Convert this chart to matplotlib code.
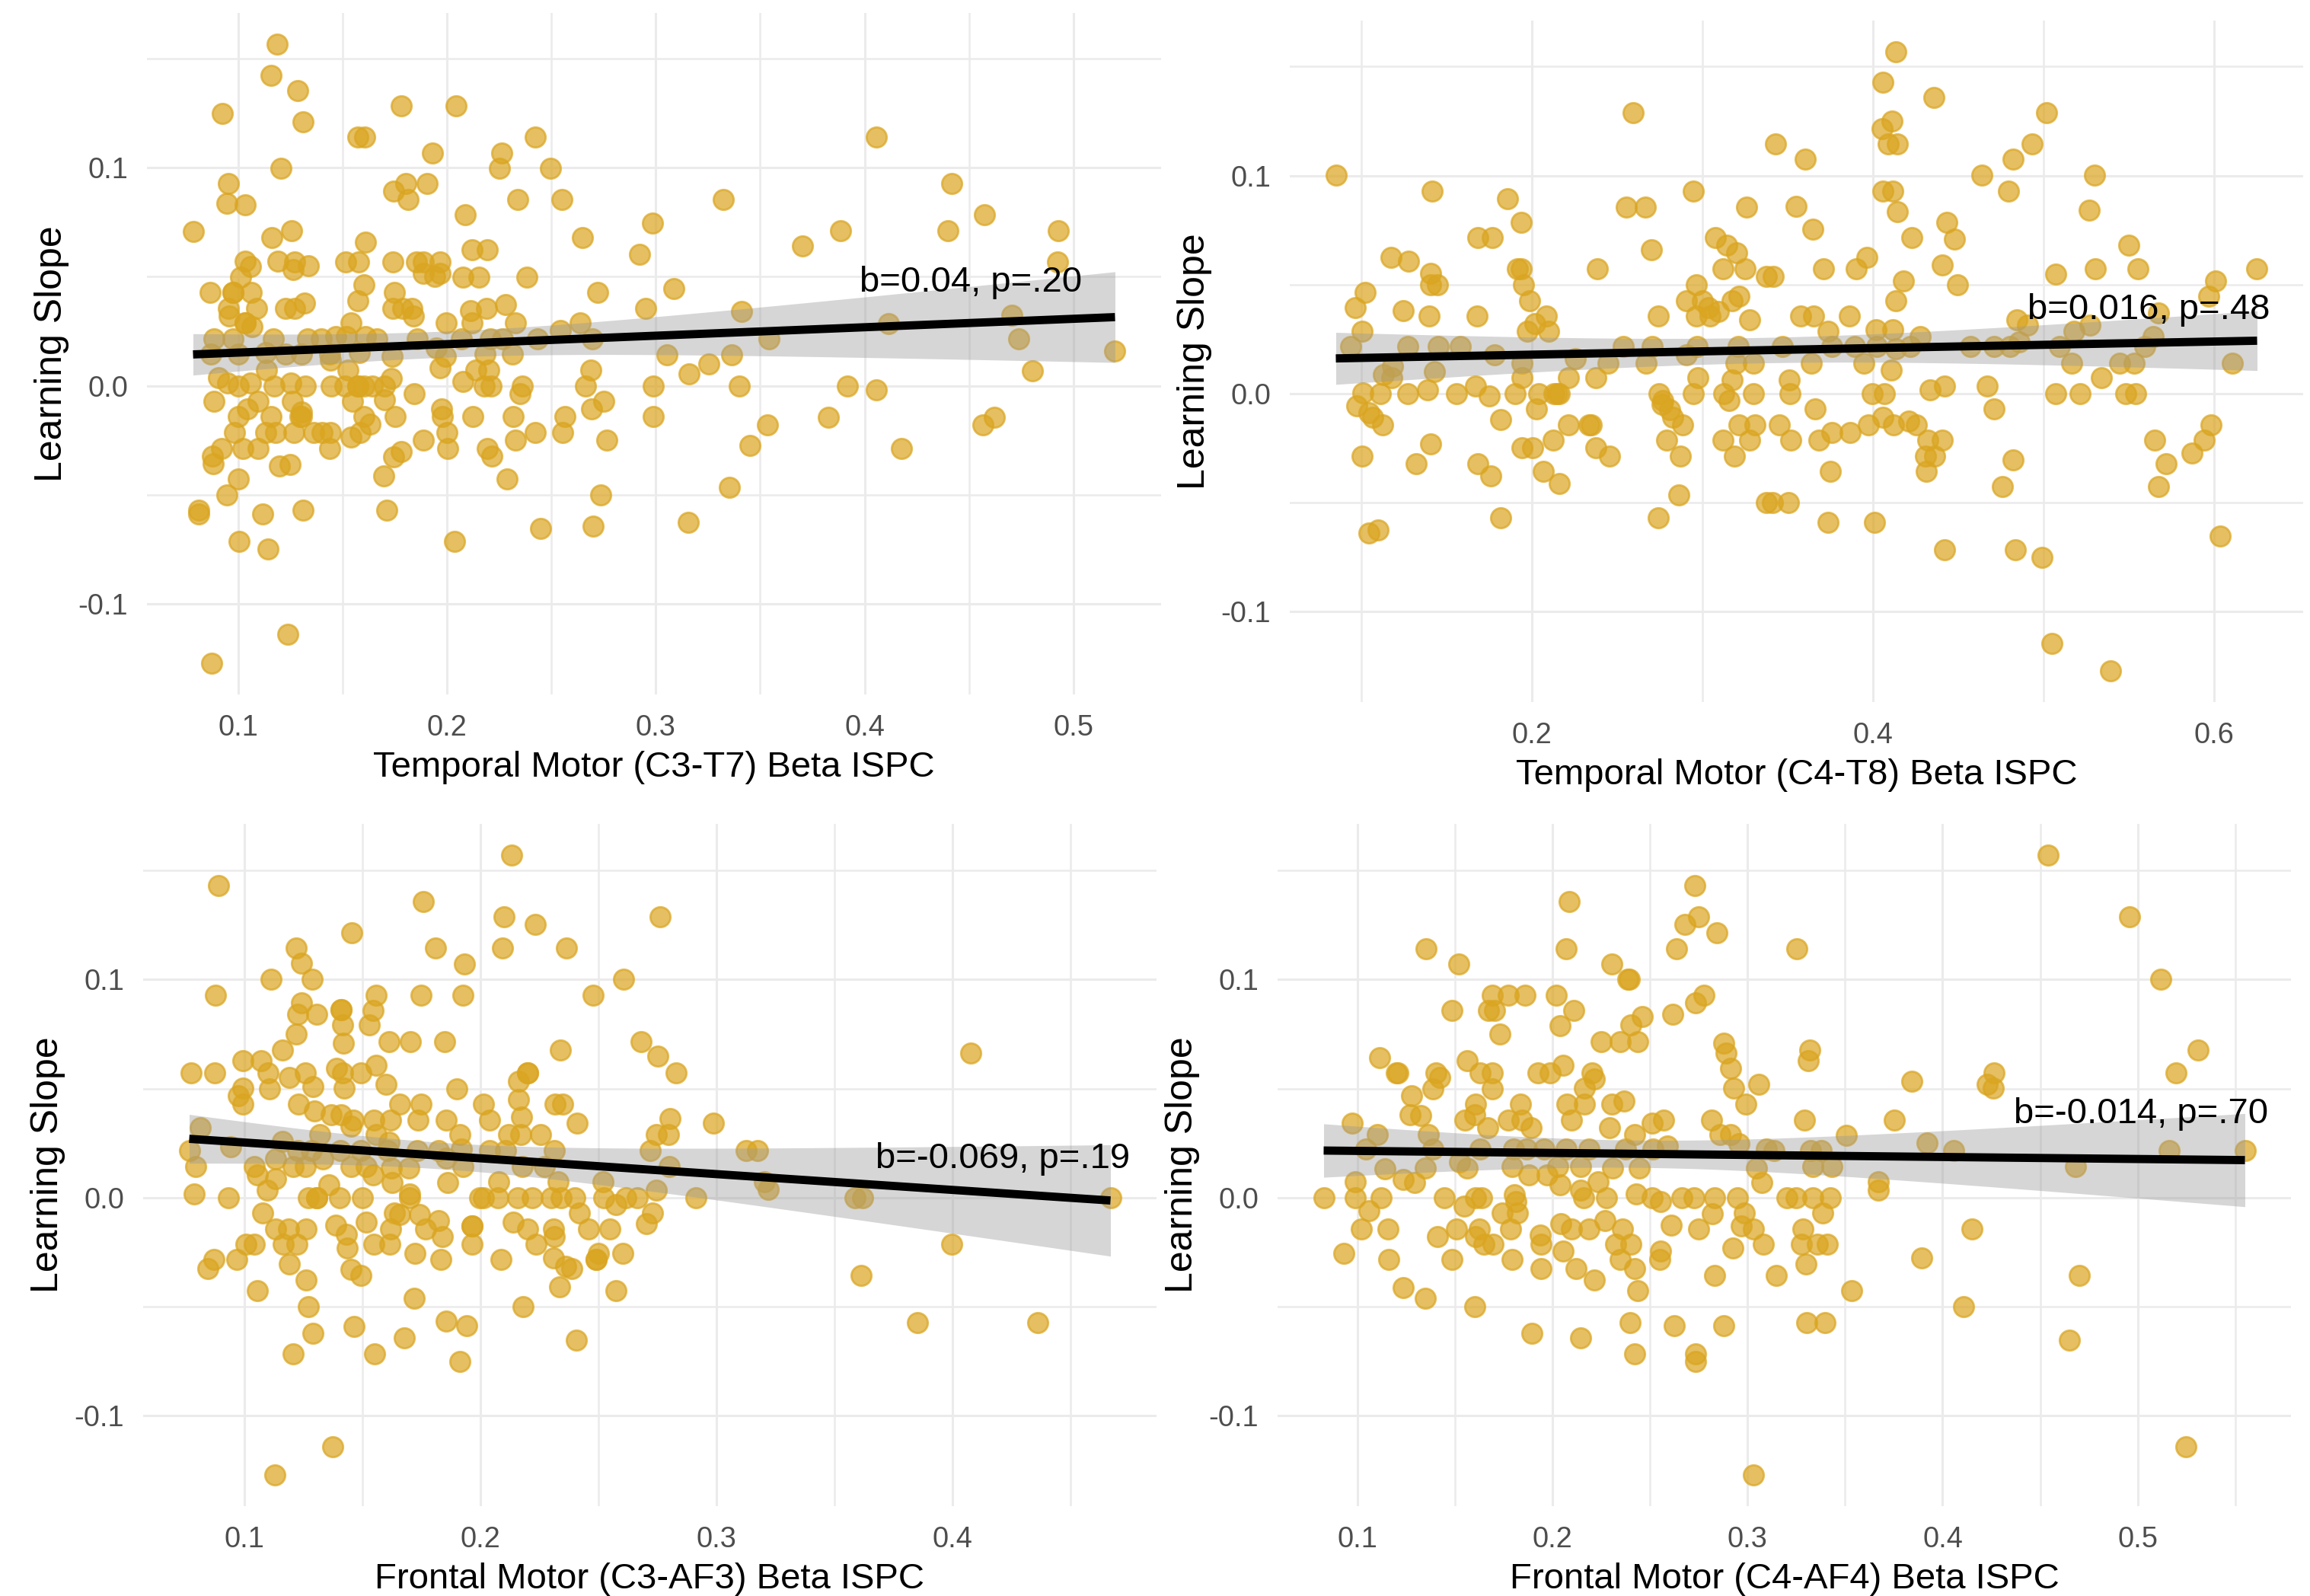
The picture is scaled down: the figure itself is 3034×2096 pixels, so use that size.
import numpy as np
import matplotlib
matplotlib.use("Agg")
import matplotlib.pyplot as plt

plt.rcParams['font.family'] = ['Liberation Sans', 'DejaVu Sans']

# ---- data ----
# Temporal Motor (C3-T7)
t7_ispc = [
    0.1187, 0.1158, 0.1285, 0.0925, 0.1313, 0.1782, 0.2044, 0.1573, 0.1606, 0.1207,
    0.1933, 0.2264, 0.2251, 0.2422, 0.2495, 0.0954, 0.0948, 0.1033, 0.1746, 0.1803,
    0.1813, 0.1907, 0.2340, 0.2552, 0.2088, 0.0785, 0.1163, 0.1256, 0.2985, 0.2651,
    0.1611, 0.2119, 0.2195, 0.2923, 0.1036, 0.1060, 0.1192, 0.1272, 0.1264, 0.1336,
    0.1515, 0.1578, 0.1743, 0.1853, 0.1888, 0.1969, 0.1888, 0.1941, 0.1969, 0.2078,
    0.2153, 0.2384, 0.1011, 0.0866, 0.0976, 0.1065, 0.1604, 0.1749, 0.2722, 0.1575,
    0.0954, 0.1090, 0.1226, 0.1272, 0.1318, 0.1743, 0.1788, 0.1834, 0.1840, 0.2112,
    0.2191, 0.2282, 0.2953, 0.0958, 0.1036, 0.1068, 0.1542, 0.1998, 0.2121, 0.2327,
    0.2640, 0.2542, 0.0886, 0.0976, 0.1171, 0.1332, 0.1399, 0.1469, 0.1521, 0.1609,
    0.1664, 0.1860, 0.2070, 0.2208, 0.2265, 0.2433, 0.2697, 0.0871, 0.1003, 0.1134,
    0.1226, 0.1303, 0.1440, 0.1443, 0.1581, 0.1739, 0.1948, 0.1995, 0.2182, 0.2314,
    0.0906, 0.0951, 0.1003, 0.1059, 0.1138, 0.1174, 0.1254, 0.1324, 0.1446, 0.1528,
    0.1511, 0.1573, 0.1642, 0.1700, 0.1736, 0.1969, 0.2078, 0.2138, 0.2202, 0.2179,
    0.2213, 0.2362, 0.2349, 0.2664, 0.2691, 0.2990, 0.0886, 0.1003, 0.1047, 0.1096,
    0.1158, 0.1259, 0.1303, 0.1296, 0.1549, 0.1603, 0.1700, 0.1752, 0.1842, 0.1976,
    0.1980, 0.2124, 0.2319, 0.2567, 0.2694, 0.2752, 0.2990, 0.0984, 0.1134, 0.1179,
    0.1267, 0.1362, 0.1402, 0.1443, 0.1541, 0.1585, 0.1632, 0.2000, 0.2423, 0.2554,
    0.0922, 0.0876, 0.1024, 0.1098, 0.1440, 0.1746, 0.1782, 0.1886, 0.2003, 0.2192,
    0.2217, 0.2327, 0.2765, 0.0880, 0.1199, 0.1251, 0.1699, 0.1002, 0.2288, 0.0946,
    0.2738, 0.0813, 0.0813, 0.1117, 0.1313, 0.1713, 0.2450, 0.2702, 0.1005, 0.1143,
    0.2037, 0.1239, 0.0873,
    0.4055, 0.4419, 0.3324, 0.4573, 0.3884, 0.4399, 0.4928, 0.3704, 0.4925, 0.3085,
    0.3412, 0.4704, 0.4116, 0.3542, 0.4738, 0.3054, 0.3254, 0.3362, 0.5199, 0.3160,
    0.4803, 0.3402, 0.3919, 0.4057, 0.3827, 0.3536, 0.4622, 0.4568, 0.3453, 0.4178,
    0.3352, 0.3155, 0.0976, 0.1036, 0.1573, 0.1603, 0.1303,
]
t7_slope = [
    0.1567, 0.1424, 0.1354, 0.1248, 0.1211, 0.1283, 0.1283, 0.1140, 0.1140, 0.0998,
    0.1068, 0.1068, 0.0998, 0.1140, 0.0998, 0.0927, 0.0837, 0.0831, 0.0892, 0.0927,
    0.0855, 0.0927, 0.0855, 0.0855, 0.0784, 0.0706, 0.0679, 0.0710, 0.0747, 0.0679,
    0.0659, 0.0624, 0.0624, 0.0604, 0.0573, 0.0548, 0.0573, 0.0569, 0.0534, 0.0552,
    0.0569, 0.0569, 0.0569, 0.0569, 0.0569, 0.0569, 0.0514, 0.0501, 0.0514, 0.0499,
    0.0499, 0.0499, 0.0499, 0.0428, 0.0428, 0.0428, 0.0462, 0.0428, 0.0428, 0.0391,
    0.0356, 0.0356, 0.0356, 0.0356, 0.0381, 0.0356, 0.0356, 0.0356, 0.0319, 0.0346,
    0.0356, 0.0374, 0.0356, 0.0319, 0.0288, 0.0270, 0.0288, 0.0288, 0.0288, 0.0288,
    0.0288, 0.0254, 0.0215, 0.0215, 0.0215, 0.0215, 0.0215, 0.0227, 0.0227, 0.0227,
    0.0215, 0.0215, 0.0215, 0.0215, 0.0215, 0.0215, 0.0215, 0.0145, 0.0145, 0.0153,
    0.0145, 0.0145, 0.0145, 0.0117, 0.0153, 0.0137, 0.0172, 0.0137, 0.0145, 0.0145,
    0.0039, 0.0012, 0.0000, 0.0012, 0.0074, 0.0000, 0.0012, 0.0000, 0.0000, 0.0074,
    0.0000, 0.0000, 0.0000, 0.0000, 0.0035, 0.0082, 0.0020, 0.0074, 0.0074, 0.0000,
    0.0000, 0.0000, -0.0035, 0.0000, 0.0074, 0.0000, -0.0072, -0.0141, -0.0106, -0.0070,
    -0.0141, -0.0070, -0.0119, -0.0141, -0.0072, -0.0141, -0.0063, -0.0141, -0.0035, -0.0106,
    -0.0141, -0.0141, -0.0141, -0.0141, -0.0106, -0.0072, -0.0141, -0.0215, -0.0215, -0.0215,
    -0.0215, -0.0215, -0.0215, -0.0215, -0.0235, -0.0215, -0.0176, -0.0215, -0.0215, -0.0215,
    -0.0288, -0.0321, -0.0288, -0.0288, -0.0288, -0.0327, -0.0301, -0.0250, -0.0288, -0.0288,
    -0.0321, -0.0250, -0.0250, -0.0356, -0.0366, -0.0360, -0.0413, -0.0428, -0.0428, -0.0501,
    -0.0501, -0.0571, -0.0587, -0.0587, -0.0571, -0.0571, -0.0655, -0.0642, -0.0714, -0.0747,
    -0.0714, -0.1140, -0.1272,
    0.1140, 0.0927, 0.0855, 0.0784, 0.0712, 0.0712, 0.0712, 0.0640, 0.0569, 0.0446,
    0.0340, 0.0323, 0.0286, 0.0215, 0.0215, 0.0143, 0.0102, 0.0143, 0.0160, 0.0055,
    0.0070, 0.0000, 0.0000, -0.0018, -0.0143, -0.0180, -0.0143, -0.0180, -0.0274, -0.0286,
    -0.0464, -0.0624, 0.0428, 0.0288, 0.0000, 0.0000, -0.0141,
]

# Temporal Motor (C4-T8)
t8_ispc = [
    0.0850, 0.2592, 0.1416, 0.1859, 0.1939, 0.1684, 0.1766, 0.2553, 0.2664, 0.2947,
    0.3258, 0.2699, 0.3076, 0.3141, 0.3203, 0.3119, 0.3248, 0.2383, 0.1174, 0.1277,
    0.1408, 0.1408, 0.1445, 0.1916, 0.1939, 0.1949, 0.1986, 0.1023, 0.0965, 0.1246,
    0.1395, 0.1680, 0.2018, 0.2084, 0.1973, 0.2100, 0.2742, 0.2963, 0.2906, 0.3000,
    0.3037, 0.3092, 0.2963, 0.3043, 0.3174, 0.3213, 0.3279, 0.3377, 0.1004, 0.0939,
    0.1270, 0.1451, 0.1578, 0.1781, 0.2537, 0.2705, 0.2971, 0.3209, 0.1184, 0.1127,
    0.1178, 0.1430, 0.1943, 0.1943, 0.2213, 0.2254, 0.2373, 0.2445, 0.2668, 0.2906,
    0.2975, 0.3197, 0.3299, 0.1008, 0.1111, 0.1270, 0.1389, 0.1557, 0.1670, 0.1748,
    0.1902, 0.2039, 0.2131, 0.2162, 0.2746, 0.2766, 0.2947, 0.3125, 0.3156, 0.3299,
    0.3176, 0.0975, 0.1045, 0.1066, 0.1123, 0.1816, 0.2025, 0.2213, 0.2336, 0.2828,
    0.2885, 0.3213, 0.3309, 0.1406, 0.1943, 0.2004, 0.2127, 0.2377, 0.2455, 0.2791,
    0.2869, 0.3121, 0.3187, 0.3279, 0.1006, 0.1322, 0.1684, 0.1758, 0.2066, 0.2160,
    0.2861, 0.3377, 0.1816, 0.2740, 0.1045, 0.1096, 0.2147, 0.2350, 0.2806, 0.2765,
    0.4134, 0.4059, 0.4356, 0.5018, 0.4113, 0.4052, 0.4090, 0.4145, 0.3430, 0.3602,
    0.4934, 0.4821, 0.4637, 0.4794, 0.5301, 0.5269, 0.4057, 0.4117, 0.4145, 0.3548,
    0.3648, 0.4434, 0.4477, 0.4230, 0.5502, 0.3711, 0.3902, 0.3966, 0.3416, 0.4406,
    0.4180, 0.4496, 0.5072, 0.5305, 0.5554, 0.6253, 0.6008, 0.4136, 0.3575, 0.3654,
    0.3860, 0.3738, 0.4017, 0.4115, 0.4276, 0.5969, 0.5675, 0.4844, 0.4905, 0.5177,
    0.5271, 0.5644, 0.3470, 0.3759, 0.3893, 0.4021, 0.4136, 0.4218, 0.4574, 0.4712,
    0.4806, 0.4857, 0.5093, 0.5594, 0.3638, 0.3948, 0.4109, 0.5166, 0.5449, 0.5533,
    0.6109, 0.3508, 0.3512, 0.3998, 0.4069, 0.4335, 0.4419, 0.4668, 0.5074, 0.5217,
    0.5338, 0.5481, 0.5543, 0.3659, 0.4712, 0.3453, 0.3516, 0.3682, 0.3761, 0.3868,
    0.3973, 0.4059, 0.4119, 0.4209, 0.4255, 0.4323, 0.4406, 0.4308, 0.4360, 0.4312,
    0.5652, 0.5719, 0.5675, 0.5872, 0.5941, 0.5983, 0.4821, 0.4758, 0.3751, 0.3412,
    0.3504, 0.3738, 0.4010, 0.4421, 0.4834, 0.4993, 0.6038, 0.5051, 0.5395,
]
t8_slope = [
    0.1002, 0.1287, 0.0929, 0.0893, 0.0785, 0.0715, 0.0715, 0.0856, 0.0856, 0.0929,
    0.0856, 0.0659, 0.0715, 0.0680, 0.0644, 0.0571, 0.0571, 0.0571, 0.0625, 0.0607,
    0.0552, 0.0500, 0.0500, 0.0571, 0.0571, 0.0500, 0.0427, 0.0464, 0.0393, 0.0379,
    0.0356, 0.0356, 0.0320, 0.0356, 0.0284, 0.0284, 0.0356, 0.0500, 0.0427, 0.0427,
    0.0393, 0.0375, 0.0356, 0.0356, 0.0427, 0.0446, 0.0339, 0.0536, 0.0284, 0.0215,
    0.0215, 0.0215, 0.0215, 0.0178, 0.0215, 0.0215, 0.0215, 0.0216, 0.0125, 0.0086,
    0.0071, 0.0102, 0.0140, 0.0071, 0.0071, 0.0159, 0.0071, 0.0140, 0.0140, 0.0178,
    0.0071, 0.0140, 0.0140, 0.0002, 0.0000, 0.0000, 0.0015, 0.0000, 0.0034, -0.0013,
    0.0000, 0.0000, 0.0000, 0.0000, 0.0000, -0.0033, 0.0000, 0.0000, -0.0033, 0.0000,
    0.0063, -0.0056, -0.0090, -0.0109, -0.0144, -0.0121, -0.0071, -0.0144, -0.0144, -0.0109,
    -0.0144, -0.0144, -0.0144, -0.0230, -0.0249, -0.0249, -0.0213, -0.0249, -0.0287, -0.0213,
    -0.0287, -0.0213, -0.0287, -0.0213, -0.0287, -0.0324, -0.0324, -0.0377, -0.0358, -0.0412,
    -0.0466, -0.0500, -0.0571, -0.0571, -0.0642, -0.0626, 0.0000, -0.0144, -0.0075, -0.0050,
    0.1569, 0.1429, 0.1358, 0.1287, 0.1251, 0.1215, 0.1144, 0.1144, 0.1144, 0.1075,
    0.1144, 0.1075, 0.1002, 0.0929, 0.1002, 0.0841, 0.0929, 0.0929, 0.0835, 0.0860,
    0.0753, 0.0785, 0.0709, 0.0715, 0.0680, 0.0571, 0.0571, 0.0625, 0.0536, 0.0590,
    0.0517, 0.0500, 0.0548, 0.0571, 0.0571, 0.0571, 0.0517, 0.0427, 0.0356, 0.0356,
    0.0356, 0.0284, 0.0293, 0.0293, 0.0261, 0.0446, 0.0370, 0.0339, 0.0312, 0.0284,
    0.0312, 0.0261, 0.0216, 0.0216, 0.0216, 0.0216, 0.0205, 0.0216, 0.0216, 0.0216,
    0.0216, 0.0236, 0.0216, 0.0216, 0.0140, 0.0140, 0.0107, 0.0140, 0.0140, 0.0140,
    0.0140, 0.0063, 0.0000, 0.0000, 0.0000, 0.0015, 0.0034, 0.0034, 0.0000, 0.0000,
    0.0071, 0.0000, 0.0000, -0.0071, -0.0071, -0.0144, -0.0215, -0.0215, -0.0178, -0.0178,
    -0.0144, -0.0109, -0.0144, -0.0128, -0.0144, -0.0215, -0.0215, -0.0287, -0.0287, -0.0358,
    -0.0215, -0.0322, -0.0429, -0.0272, -0.0215, -0.0144, -0.0305, -0.0429, -0.0358, -0.0500,
    -0.0500, -0.0590, -0.0590, -0.0716, -0.0716, -0.0751, -0.0655, -0.1146, -0.1274,
]

# Frontal Motor (C3-AF3)
af3_ispc = [
    0.2131, 0.0888, 0.1759, 0.2101, 0.2233, 0.2761, 0.1455, 0.1218, 0.1242, 0.1285,
    0.1112, 0.1810, 0.1932, 0.2094, 0.2366, 0.2608, 0.0876, 0.1556, 0.1748, 0.1925,
    0.2478, 0.1242, 0.1225, 0.1408, 0.1543, 0.1305, 0.1415, 0.1530, 0.1218, 0.1419,
    0.1612, 0.1703, 0.1847, 0.1161, 0.2339, 0.2680, 0.2752, 0.0772, 0.0873, 0.0993,
    0.1071, 0.1098, 0.1190, 0.1256, 0.1391, 0.1415, 0.1493, 0.1559, 0.2160, 0.2199,
    0.0991, 0.0974, 0.0993, 0.1107, 0.1288, 0.1421, 0.1601, 0.1901, 0.1228, 0.1295,
    0.1367, 0.1409, 0.1460, 0.1548, 0.1620, 0.1656, 0.1749, 0.1736, 0.1853, 0.2012,
    0.2040, 0.2161, 0.2174, 0.2316, 0.2349, 0.2411, 0.0813, 0.1320, 0.1450, 0.1558,
    0.1612, 0.1911, 0.2120, 0.2170, 0.2256, 0.2746, 0.0941, 0.1159, 0.0765, 0.1226,
    0.1284, 0.1406, 0.1493, 0.1605, 0.1732, 0.1821, 0.1918, 0.2040, 0.2105, 0.2314,
    0.2720, 0.0791, 0.1042, 0.1133, 0.1205, 0.1256, 0.1331, 0.1452, 0.1516, 0.1543,
    0.1622, 0.1695, 0.1853, 0.1925, 0.2176, 0.2271, 0.2801, 0.1053, 0.1131, 0.1095,
    0.1357, 0.1625, 0.1862, 0.2078, 0.2329, 0.2519, 0.2746, 0.0787, 0.0931, 0.1269,
    0.1305, 0.1403, 0.1501, 0.1700, 0.1996, 0.2012, 0.2073, 0.2159, 0.2218, 0.2300,
    0.2343, 0.2401, 0.2524, 0.2573, 0.2617, 0.2666, 0.1075, 0.1634, 0.1659, 0.1742,
    0.2419, 0.2729, 0.1130, 0.1186, 0.1259, 0.1388, 0.1431, 0.1516, 0.1618, 0.1767,
    0.1823, 0.1963, 0.2138, 0.2199, 0.2311, 0.2458, 0.2549, 0.2703, 0.1007, 0.1042,
    0.1164, 0.1222, 0.1435, 0.1548, 0.1617, 0.1839, 0.1963, 0.2235, 0.2314, 0.2311,
    0.2360, 0.2490, 0.2499, 0.0844, 0.0870, 0.0968, 0.1190, 0.1450, 0.1493, 0.1723,
    0.1831, 0.2088, 0.2602, 0.1053, 0.1262, 0.2336, 0.2386, 0.2573, 0.1269, 0.1718,
    0.2179, 0.1464, 0.1853, 0.1942, 0.1291, 0.1677, 0.2406, 0.1207, 0.1550, 0.1911,
    0.1375, 0.1128,
    0.2830, 0.2804, 0.2797, 0.2987, 0.3125, 0.3176, 0.3205, 0.3220, 0.2914, 0.3589,
    0.3621, 0.4078, 0.3999, 0.3615, 0.3852, 0.4363, 0.4671,
    0.1408, 0.1963, 0.2490, 0.2199, 0.1305, 0.1700,
]
af3_slope = [
    0.1572, 0.1430, 0.1359, 0.1287, 0.1252, 0.1287, 0.1215, 0.1145, 0.1074, 0.1000,
    0.1000, 0.1145, 0.1072, 0.1145, 0.1145, 0.1000, 0.0930, 0.0930, 0.0930, 0.0930,
    0.0930, 0.0893, 0.0842, 0.0863, 0.0859, 0.0840, 0.0791, 0.0791, 0.0750, 0.0709,
    0.0715, 0.0715, 0.0715, 0.0678, 0.0678, 0.0715, 0.0648, 0.0572, 0.0572, 0.0627,
    0.0627, 0.0572, 0.0551, 0.0572, 0.0592, 0.0572, 0.0572, 0.0607, 0.0535, 0.0572,
    0.0504, 0.0467, 0.0428, 0.0500, 0.0508, 0.0504, 0.0518, 0.0500, 0.0428, 0.0398,
    0.0381, 0.0381, 0.0357, 0.0357, 0.0357, 0.0428, 0.0428, 0.0357, 0.0357, 0.0428,
    0.0357, 0.0449, 0.0371, 0.0428, 0.0428, 0.0340, 0.0320, 0.0289, 0.0326, 0.0289,
    0.0254, 0.0289, 0.0289, 0.0289, 0.0289, 0.0289, 0.0232, 0.0258, 0.0217, 0.0217,
    0.0217, 0.0217, 0.0217, 0.0217, 0.0217, 0.0217, 0.0223, 0.0217, 0.0217, 0.0217,
    0.0217, 0.0141, 0.0141, 0.0176, 0.0141, 0.0141, 0.0176, 0.0141, 0.0141, 0.0105,
    0.0135, 0.0135, 0.0182, 0.0141, 0.0141, 0.0141, 0.0141, 0.0105, 0.0088, 0.0033,
    0.0059, 0.0070, 0.0070, 0.0074, 0.0074, 0.0074, 0.0033, 0.0016, 0.0000, 0.0000,
    0.0000, 0.0000, 0.0000, 0.0000, 0.0000, 0.0000, 0.0000, 0.0000, 0.0000, 0.0000,
    0.0000, 0.0000, 0.0000, -0.0033, 0.0000, 0.0000, -0.0070, -0.0070, -0.0076, -0.0076,
    -0.0070, -0.0070, -0.0145, -0.0145, -0.0145, -0.0125, -0.0168, -0.0111, -0.0145, -0.0145,
    -0.0105, -0.0131, -0.0111, -0.0145, -0.0145, -0.0145, -0.0145, -0.0121, -0.0213, -0.0213,
    -0.0213, -0.0213, -0.0230, -0.0213, -0.0213, -0.0178, -0.0213, -0.0213, -0.0178, -0.0275,
    -0.0316, -0.0285, -0.0254, -0.0326, -0.0285, -0.0285, -0.0305, -0.0330, -0.0357, -0.0254,
    -0.0285, -0.0285, -0.0254, -0.0428, -0.0377, -0.0408, -0.0326, -0.0428, -0.0500, -0.0463,
    -0.0500, -0.0592, -0.0568, -0.0588, -0.0623, -0.0643, -0.0654, -0.0715, -0.0715, -0.0750,
    -0.1143, -0.1273,
    0.0572, 0.0361, 0.0289, 0.0340, 0.0217, 0.0217, 0.0074, 0.0039, 0.0000, 0.0000,
    0.0000, 0.0662, -0.0213, -0.0357, -0.0572, -0.0572, 0.0000,
    0.0863, -0.0131, -0.0285, 0.0572, 0.0000, 0.0016,
]

# Frontal Motor (C4-AF4)
af4_ispc = [
    0.2086, 0.2732, 0.2750, 0.2680, 0.2844, 0.1351, 0.2072, 0.2635, 0.1519, 0.2306,
    0.2394, 0.2385, 0.1487, 0.1691, 0.1776, 0.1860, 0.2020, 0.1673, 0.1705, 0.2111,
    0.2617, 0.2735, 0.2776, 0.2462, 0.1732, 0.2039, 0.2403, 0.1116, 0.1562, 0.2252,
    0.2349, 0.2438, 0.2877, 0.2889, 0.2914, 0.1200, 0.1208, 0.1404, 0.1422, 0.1630,
    0.1692, 0.1928, 0.1987, 0.2054, 0.2204, 0.2215, 0.3056, 0.1277, 0.1388, 0.1694,
    0.2166, 0.2930, 0.2993, 0.1272, 0.1326, 0.1606, 0.1553, 0.1603, 0.1669, 0.1773,
    0.1835, 0.1846, 0.1893, 0.2075, 0.2098, 0.2166, 0.2304, 0.2367, 0.2295, 0.2814,
    0.2510, 0.2572, 0.0975, 0.1102, 0.1365, 0.2420, 0.2859, 0.2912, 0.2957, 0.1043,
    0.1388, 0.1628, 0.1800, 0.1866, 0.1959, 0.2072, 0.2188, 0.2376, 0.2515, 0.2590,
    0.3097, 0.1141, 0.1234, 0.1347, 0.1293, 0.1526, 0.1565, 0.1794, 0.1878, 0.1973,
    0.2027, 0.2039, 0.2143, 0.2233, 0.2309, 0.2447, 0.3047, 0.3073, 0.0989, 0.0828,
    0.0989, 0.1122, 0.1445, 0.1606, 0.1637, 0.1805, 0.1812, 0.2161, 0.2143, 0.2277,
    0.2429, 0.2510, 0.2553, 0.2662, 0.2725, 0.2832, 0.2948, 0.1061, 0.1547, 0.1741,
    0.1821, 0.2819, 0.2984, 0.1021, 0.1157, 0.1410, 0.1508, 0.1624, 0.1785, 0.1937,
    0.2045, 0.2098, 0.2188, 0.2270, 0.2358, 0.2610, 0.2751, 0.2970, 0.3029, 0.3082,
    0.0932, 0.1605, 0.1651, 0.1696, 0.1941, 0.2326, 0.2403, 0.2553, 0.2927, 0.1163,
    0.1487, 0.1794, 0.1941, 0.2054, 0.2349, 0.2420, 0.2549, 0.2123, 0.2216, 0.2832,
    0.2438, 0.1236, 0.1347, 0.1601, 0.2399, 0.2626, 0.2877, 0.1894, 0.2143, 0.2420,
    0.2733, 0.2733, 0.3029,
    0.4542, 0.4956, 0.3252, 0.5119, 0.5310, 0.5197, 0.3319, 0.3310, 0.3843, 0.4263,
    0.4230, 0.4259, 0.3292, 0.3752, 0.3505, 0.3135, 0.3323, 0.3378, 0.3920, 0.4057,
    0.5162, 0.5549, 0.4682, 0.3336, 0.3432, 0.3670, 0.3670, 0.3204, 0.3250, 0.3336,
    0.3423, 0.3387, 0.3286, 0.3277, 0.3359, 0.3409, 0.3299, 0.3146, 0.3533, 0.3892,
    0.4150, 0.4701, 0.4109, 0.3305, 0.3398, 0.4650, 0.5248,
]
af4_slope = [
    0.1359, 0.1430, 0.1287, 0.1252, 0.1215, 0.1143, 0.1143, 0.1143, 0.1072, 0.1072,
    0.1000, 0.1000, 0.0859, 0.0930, 0.0930, 0.0930, 0.0930, 0.0859, 0.0859, 0.0859,
    0.0842, 0.0893, 0.0930, 0.0832, 0.0750, 0.0787, 0.0791, 0.0643, 0.0627, 0.0715,
    0.0715, 0.0715, 0.0709, 0.0662, 0.0592, 0.0572, 0.0572, 0.0572, 0.0551, 0.0572,
    0.0572, 0.0572, 0.0572, 0.0607, 0.0572, 0.0545, 0.0518, 0.0467, 0.0500, 0.0500,
    0.0504, 0.0504, 0.0428, 0.0381, 0.0377, 0.0428, 0.0357, 0.0381, 0.0320, 0.0357,
    0.0428, 0.0357, 0.0320, 0.0428, 0.0357, 0.0428, 0.0428, 0.0443, 0.0320, 0.0357,
    0.0340, 0.0357, 0.0340, 0.0289, 0.0289, 0.0289, 0.0289, 0.0289, 0.0248, 0.0223,
    0.0223, 0.0223, 0.0223, 0.0223, 0.0223, 0.0223, 0.0223, 0.0223, 0.0223, 0.0238,
    0.0223, 0.0131, 0.0084, 0.0135, 0.0068, 0.0162, 0.0135, 0.0141, 0.0105, 0.0105,
    0.0141, 0.0059, 0.0141, 0.0074, 0.0135, 0.0135, 0.0135, 0.0068, 0.0074, 0.0000,
    0.0000, 0.0000, 0.0000, 0.0000, 0.0000, 0.0012, -0.0018, 0.0000, 0.0033, 0.0000,
    0.0018, 0.0000, -0.0018, 0.0000, 0.0000, 0.0000, 0.0000, -0.0059, -0.0039, -0.0070,
    -0.0070, -0.0074, -0.0070, -0.0145, -0.0145, -0.0178, -0.0145, -0.0145, -0.0145, -0.0172,
    -0.0121, -0.0145, -0.0145, -0.0105, -0.0145, -0.0125, -0.0145, -0.0131, -0.0145, -0.0213,
    -0.0254, -0.0178, -0.0213, -0.0213, -0.0213, -0.0213, -0.0213, -0.0244, -0.0230, -0.0285,
    -0.0285, -0.0285, -0.0326, -0.0244, -0.0285, -0.0326, -0.0285, -0.0326, -0.0377, -0.0357,
    -0.0428, -0.0412, -0.0463, -0.0500, -0.0572, -0.0588, -0.0588, -0.0623, -0.0643, -0.0715,
    -0.0715, -0.0752, -0.1273,
    0.1572, 0.1287, 0.1143, 0.1000, 0.0678, 0.0572, 0.0678, 0.0627, 0.0535, 0.0572,
    0.0518, 0.0504, 0.0357, 0.0357, 0.0285, 0.0217, 0.0217, 0.0217, 0.0250, 0.0217,
    0.0217, 0.0217, 0.0141, 0.0141, 0.0141, 0.0074, 0.0033, 0.0000, 0.0000, 0.0000,
    0.0000, -0.0070, -0.0145, -0.0213, -0.0213, -0.0213, -0.0305, -0.0357, -0.0428, -0.0275,
    -0.0145, -0.0357, -0.0500, -0.0572, -0.0572, -0.0654, -0.1143,
]

x_titles = ["Temporal Motor (C3-T7) Beta ISPC", "Temporal Motor (C4-T8) Beta ISPC",
            "Frontal Motor (C3-AF3) Beta ISPC", "Frontal Motor (C4-AF4) Beta ISPC"]
stats_labels = ["b=0.04, p=.20", "b=0.016, p=.48", "b=-0.069, p=.19", "b=-0.014, p=.70"]
stats_pos = [(0.504, 0.0433), (0.6328, 0.0342), (0.4753, 0.0136), (0.5668, 0.0340)]

x_major = [[0.1, 0.2, 0.3, 0.4, 0.5], [0.2, 0.4, 0.6], [0.1, 0.2, 0.3, 0.4], [0.1, 0.2, 0.3, 0.4, 0.5]]
x_major_labels = [["0.1", "0.2", "0.3", "0.4", "0.5"], ["0.2", "0.4", "0.6"],
                  ["0.1", "0.2", "0.3", "0.4"], ["0.1", "0.2", "0.3", "0.4", "0.5"]]
x_minor = [[0.15, 0.25, 0.35, 0.45], [0.1, 0.3, 0.5], [0.15, 0.25, 0.35, 0.45], [0.15, 0.25, 0.35, 0.45, 0.55]]
y_major = [-0.1, 0.0, 0.1]
y_major_labels = ["-0.1", "0.0", "0.1"]
y_minor = [-0.05, 0.05, 0.15]

# ---- layout (pixel boxes of the four panels: left, right, top, bottom) ----
W, H, DPI = 3034, 2096, 200
boxes = [(193, 1525, 17, 912), (1694, 3025, 27, 922), (188, 1519, 1082, 1978), (1678, 3009, 1082, 1978)]

GOLD = "#DAA520"
GRID = "#EBEBEB"

fig = plt.figure(figsize=(W / DPI, H / DPI), dpi=DPI)
fig.patch.set_facecolor("white")

panels = [(t7_ispc, t7_slope), (t8_ispc, t8_slope), (af3_ispc, af3_slope), (af4_ispc, af4_slope)]

for i, (xv, yv) in enumerate(panels):
    left, right, top, bottom = boxes[i]
    ax = fig.add_axes([left / W, 1 - bottom / H, (right - left) / W, (bottom - top) / H])
    x = np.array(xv)
    y = np.array(yv)

    # ggplot-like 5% expansion
    xr = x.max() - x.min()
    yr = y.max() - y.min()
    ax.set_xlim(x.min() - 0.05 * xr, x.max() + 0.05 * xr)
    ax.set_ylim(y.min() - 0.05 * yr, y.max() + 0.05 * yr)

    ax.set_xticks(x_major[i])
    ax.set_xticklabels(x_major_labels[i])
    ax.set_xticks(x_minor[i], minor=True)
    ax.set_yticks(y_major)
    ax.set_yticklabels(y_major_labels)
    ax.set_yticks(y_minor, minor=True)
    ax.tick_params(which="both", length=0)
    ax.tick_params(axis="x", labelsize=13.7, labelcolor="#4D4D4D", pad=9.5)
    ax.tick_params(axis="y", labelsize=13.7, labelcolor="#4D4D4D", pad=9)
    ax.grid(which="major", color=GRID, linewidth=1.1)
    ax.grid(which="minor", color=GRID, linewidth=0.9)
    ax.set_axisbelow(True)
    for sp in ax.spines.values():
        sp.set_visible(False)

    ax.scatter(x, y, s=90, color=GOLD, alpha=0.7, edgecolors=GOLD, linewidths=1.0, zorder=2)

    # linear fit with 95% confidence band
    slope, icpt = np.polyfit(x, y, 1)
    n = len(x)
    resid = y - (icpt + slope * x)
    s_err = np.sqrt(np.sum(resid ** 2) / (n - 2))
    xs = np.linspace(x.min(), x.max(), 100)
    fit = icpt + slope * xs
    se = s_err * np.sqrt(1 / n + (xs - x.mean()) ** 2 / np.sum((x - x.mean()) ** 2))
    ax.fill_between(xs, fit - 1.97 * se, fit + 1.97 * se, color="#999999", alpha=0.4, lw=0, zorder=3)
    ax.plot(xs, fit, color="black", lw=3.9, zorder=4, solid_capstyle="butt")

    ax.text(stats_pos[i][0], stats_pos[i][1], stats_labels[i], ha="right", va="baseline",
            fontsize=17, color="black", zorder=5)

    # axis titles
    cx = (left + right) / 2
    fig.text(cx / W, 1 - (bottom + 108) / H, x_titles[i], ha="center", va="baseline",
             fontsize=17, color="black")
    cy = (top + bottom) / 2
    fig.text((left - 112) / W, 1 - cy / H, "Learning Slope", rotation=90, rotation_mode="anchor",
             ha="center", va="baseline", fontsize=18, color="black")

fig.savefig("out.png", dpi=DPI, facecolor="white")
